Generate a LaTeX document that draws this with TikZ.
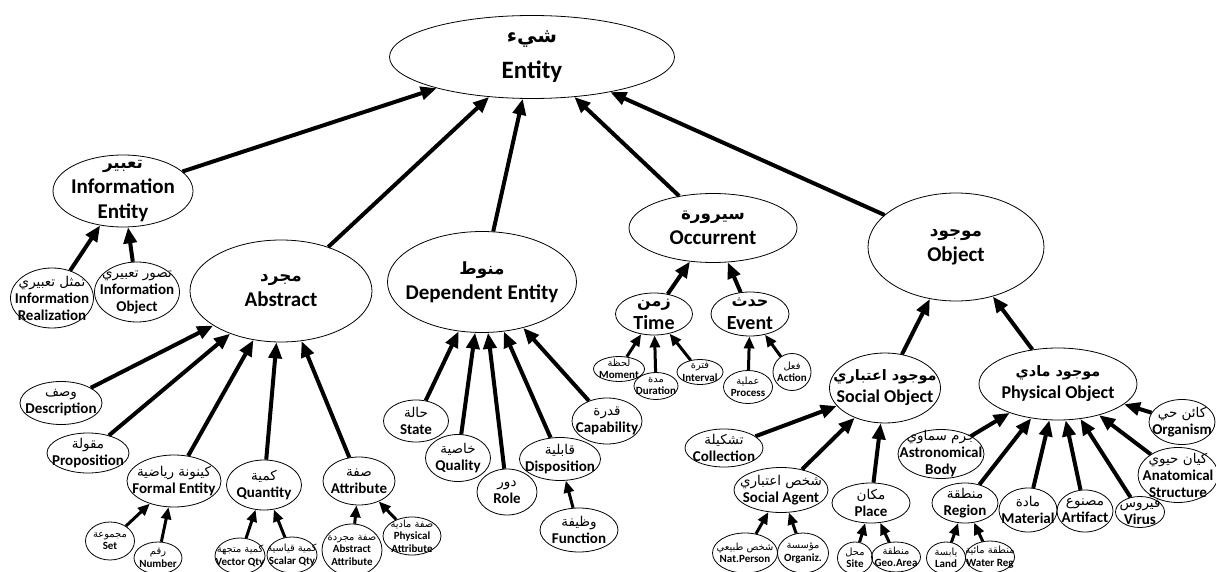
\documentclass[tikz,border=0pt]{standalone}
\usepackage{fontspec}
\setmainfont{Carlito}
\newfontfamily\ar[Script=Arabic,Scale=0.8]{DejaVu Sans}
\newfontfamily\arr[Script=Arabic,Scale=0.9]{DejaVu Sans}
\TeXXeTstate=1
\usetikzlibrary{arrows.meta,shapes.geometric}
% Arabic line over the English name(s)
\newcommand{\tx}[2]{{\ar #1}\\#2}
\newcommand{\tn}[2]{{\arr\mdseries #1}\\#2}

\begin{document}
\begin{tikzpicture}[
  x=1pt, y=-1pt,
  cls/.style={draw, ellipse, line width=0.8pt, inner sep=0pt},
  lA/.style={font=\fontsize{25}{36}\selectfont\bfseries, align=center},
  lB/.style={font=\fontsize{21}{25}\selectfont\bfseries, align=center},
  lC/.style={font=\fontsize{18}{22}\selectfont\bfseries, align=center},
  lT/.style={font=\fontsize{20}{23}\selectfont\bfseries, align=center},
  lD/.style={font=\fontsize{15}{17}\selectfont\bfseries, align=center},
  lE/.style={font=\fontsize{11}{12.5}\selectfont\bfseries, align=center},
  arrow/.style={line width=4pt, -{Triangle[length=16pt,width=13pt]}},
  sarrow/.style={line width=3pt, -{Triangle[length=12pt,width=10pt]}}
]
\useasboundingbox (0,0) rectangle (1216,572);

% top
\node[cls, minimum width=285, minimum height=83, label={[lA]center:{\tx{\beginR شيء\endR}{Entity}}}] (entity) at (532,57) {};
\node[cls, minimum width=140, minimum height=72, label={[lB]center:{\tx{\beginR تعبير\endR}{Information\\Entity}}}] (info) at (123,191) {};
\node[cls, minimum width=182, minimum height=102, label={[lB]center:{\tx{\beginR مجرد\endR}{Abstract}}}] (abs) at (281,291) {};
\node[cls, minimum width=189, minimum height=101, label={[lB]center:{\tx{\beginR منوط\endR}{Dependent Entity}}}] (dep) at (482,282) {};
\node[cls, minimum width=168, minimum height=69, label={[lB]center:{\tx{\beginR سيرورة\endR}{Occurrent}}}] (occ) at (713,228) {};
\node[cls, minimum width=176, minimum height=108, label={[lB]center:{\tx{\beginR موجود\endR}{Object}}}] (obj) at (956,247) {};

% information entity
\node[cls, minimum width=83, minimum height=60, label={[lD]center:{\tn{\beginR تمثل تعبيري\endR}{Information\\Realization}}}] (infreal) at (52,298) {};
\node[cls, minimum width=85, minimum height=60, label={[lD]center:{\tn{\beginR تصور تعبيري\endR}{Information\\Object}}}] (infobj) at (137,292) {};

% abstract
\node[cls, minimum width=82, minimum height=43, label={[lD]center:{\tn{\beginR وصف\endR}{Description}}}] (desc) at (61,403) {};
\node[cls, minimum width=82, minimum height=40, label={[lD]center:{\tn{\beginR مقولة\endR}{Proposition}}}] (prop) at (88,453) {};
\node[cls, minimum width=94, minimum height=52, label={[lD]center:{\tn{\beginR كينونة رياضية\endR}{Formal Entity}}}] (formal) at (174,481) {};
\node[cls, minimum width=75, minimum height=50, label={[lD]center:{\tn{\beginR كمية\endR}{Quantity}}}] (quant) at (264,485) {};
\node[cls, minimum width=72, minimum height=48, label={[lD]center:{\tn{\beginR صفة\endR}{Attribute}}}] (attr) at (359,481) {};
\node[cls, minimum width=49, minimum height=38, label={[lE]center:{\tn{\beginR مجموعة\endR}{Set}}}] (set) at (110,541) {};
\node[cls, minimum width=48, minimum height=32, label={[lE]center:{\tn{\beginR رقم\endR}{Number}}}] (num) at (158,558) {};
\node[cls, minimum width=50, minimum height=36, label={[lE]center:{\tn{\beginR كمية متجهة\endR}{Vector Qty}}}] (vec) at (240,556) {};
\node[cls, minimum width=50, minimum height=36, label={[lE]center:{\tn{\beginR كمية قياسية\endR}{Scalar Qty}}}] (scal) at (292,555) {};
\node[cls, minimum width=60, minimum height=52, label={[lE]center:{\tn{\beginR صفة مجردة\endR}{Abstract\\Attribute}}}] (absattr) at (352,550) {};
\node[cls, minimum width=58, minimum height=38, label={[lE]center:{\tn{\beginR صفة مادية\endR}{Physical\\Attribute}}}] (physattr) at (412,536) {};

% dependent entity
\node[cls, minimum width=65, minimum height=42, label={[lD]center:{\tn{\beginR حالة\endR}{State}}}] (state) at (416,421) {};
\node[cls, minimum width=65, minimum height=47, label={[lD]center:{\tn{\beginR خاصية\endR}{Quality}}}] (qual) at (458,458) {};
\node[cls, minimum width=60, minimum height=46, label={[lD]center:{\tn{\beginR دور\endR}{Role}}}] (role) at (507,492) {};
\node[cls, minimum width=81, minimum height=43, label={[lD]center:{\tn{\beginR قابلية\endR}{Disposition}}}] (disp) at (560,459) {};
\node[cls, minimum width=70, minimum height=46, label={[lD]center:{\tn{\beginR قدرة\endR}{Capability}}}] (cap) at (607,421) {};
\node[cls, minimum width=78, minimum height=44, label={[lD]center:{\tn{\beginR وظيفة\endR}{Function}}}] (func) at (579,530) {};

% occurrent
\node[cls, minimum width=77, minimum height=42, label={[lT]center:{\tx{\beginR زمن\endR}{Time}}}] (time) at (654,314) {};
\node[cls, minimum width=78, minimum height=44, label={[lT]center:{\tx{\beginR حدث\endR}{Event}}}] (event) at (750,314) {};
\node[cls, minimum width=51, minimum height=25, label={[lE]center:{\tn{\beginR لحظة\endR}{Moment}}}] (moment) at (619,369) {};
\node[cls, minimum width=44, minimum height=27, label={[lE]center:{\tn{\beginR مدة\endR}{Duration}}}] (dur) at (656,386) {};
\node[cls, minimum width=46, minimum height=25, label={[lE]center:{\tn{\beginR فترة\endR}{Interval}}}] (intv) at (700,372) {};
\node[cls, minimum width=49, minimum height=33, label={[lE]center:{\tn{\beginR عملية\endR}{Process}}}] (proc) at (748,387) {};
\node[cls, minimum width=38, minimum height=37, label={[lE]center:{\tn{\beginR فعل\endR}{Action}}}] (act) at (792,372) {};

% object
\node[cls, minimum width=111, minimum height=70, label={[lC]center:{\tx{\beginR موجود اعتباري\endR}{Social Object}}}] (socobj) at (885,388) {};
\node[cls, minimum width=158, minimum height=72, label={[lC]center:{\tx{\beginR موجود مادي\endR}{Physical Object}}}] (physobj) at (1058,384) {};
\node[cls, minimum width=78, minimum height=38, label={[lD]center:{\tn{\beginR تشكيلة\endR}{Collection}}}] (coll) at (724,448) {};
\node[cls, minimum width=94, minimum height=45, label={[lD]center:{\tn{\beginR شخص اعتباري\endR}{Social Agent}}}] (socag) at (781,490) {};
\node[cls, minimum width=78, minimum height=40, label={[lD]center:{\tn{\beginR مكان\endR}{Place}}}] (place) at (871,503) {};
\node[cls, minimum width=65, minimum height=40, label={[lE]center:{\tn{\beginR شخص طبيعي\endR}{Nat.Person}}}] (natp) at (745,553) {};
\node[cls, minimum width=51, minimum height=40, label={[lE]center:{\tn{\beginR مؤسسة\endR}{Organiz.}}}] (org) at (803,553) {};
\node[cls, minimum width=35, minimum height=32, label={[lE]center:{\tn{\beginR محل\endR}{Site}}}] (site) at (855,558) {};
\node[cls, minimum width=49, minimum height=30, label={[lE]center:{\tn{\beginR منطقة\endR}{Geo.Area}}}] (geo) at (896,557) {};
\node[cls, minimum width=86, minimum height=49, label={[lD]center:{\tn{\beginR جرم سماوي\endR}{Astronomical\\Body}}}] (astro) at (941,454) {};
\node[cls, minimum width=66, minimum height=40, label={[lD]center:{\tn{\beginR منطقة\endR}{Region}}}] (region) at (965,503) {};
\node[cls, minimum width=58, minimum height=44, label={[lD]center:{\tn{\beginR مادة\endR}{Material}}}] (mat) at (1028,510) {};
\node[cls, minimum width=56, minimum height=42, label={[lD]center:{\tn{\beginR مصنوع\endR}{Artifact}}}] (art) at (1085,511) {};
\node[cls, minimum width=49, minimum height=31, label={[lD]center:{\tn{\beginR فيروس\endR}{Virus}}}] (virus) at (1140,512) {};
\node[cls, minimum width=80, minimum height=55, label={[lD]center:{\tn{\beginR كيان حيوي\endR}{Anatomical\\Structure}}}] (anat) at (1178,475) {};
\node[cls, minimum width=66, minimum height=45, label={[lD]center:{\tn{\beginR كائن حي\endR}{Organism}}}] (organism) at (1182,422) {};
\node[cls, minimum width=39, minimum height=32, label={[lE]center:{\tn{\beginR يابسة\endR}{Land}}}] (land) at (946,558) {};
\node[cls, minimum width=49, minimum height=32, label={[lE]center:{\tn{\beginR منطقة مائية\endR}{Water Reg}}}] (water) at (990,557) {};

% is-a links
\foreach \c in {info,abs,dep,occ,obj} \draw[arrow] (\c) -- (entity);
\foreach \c in {infreal,infobj} \draw[arrow] (\c) -- (info);
\foreach \c in {desc,prop,formal,quant,attr} \draw[arrow] (\c) -- (abs);
\foreach \c in {state,qual,role,disp,cap} \draw[arrow] (\c) -- (dep);
\foreach \c in {time,event} \draw[arrow] (\c) -- (occ);
\foreach \c in {socobj,physobj} \draw[arrow] (\c) -- (obj);
\foreach \c in {coll,socag,place} \draw[arrow] (\c) -- (socobj);
\foreach \c in {astro,region,mat,art,virus,anat,organism} \draw[arrow] (\c) -- (physobj);
\foreach \c in {set,num} \draw[sarrow] (\c) -- (formal);
\foreach \c in {vec,scal} \draw[sarrow] (\c) -- (quant);
\foreach \c in {absattr,physattr} \draw[sarrow] (\c) -- (attr);
\draw[sarrow] (func) -- (disp);
\foreach \c in {moment,dur,intv} \draw[sarrow] (\c) -- (time);
\foreach \c in {proc,act} \draw[sarrow] (\c) -- (event);
\foreach \c in {natp,org} \draw[sarrow] (\c) -- (socag);
\foreach \c in {site,geo} \draw[sarrow] (\c) -- (place);
\foreach \c in {land,water} \draw[sarrow] (\c) -- (region);
\end{tikzpicture}
\end{document}
